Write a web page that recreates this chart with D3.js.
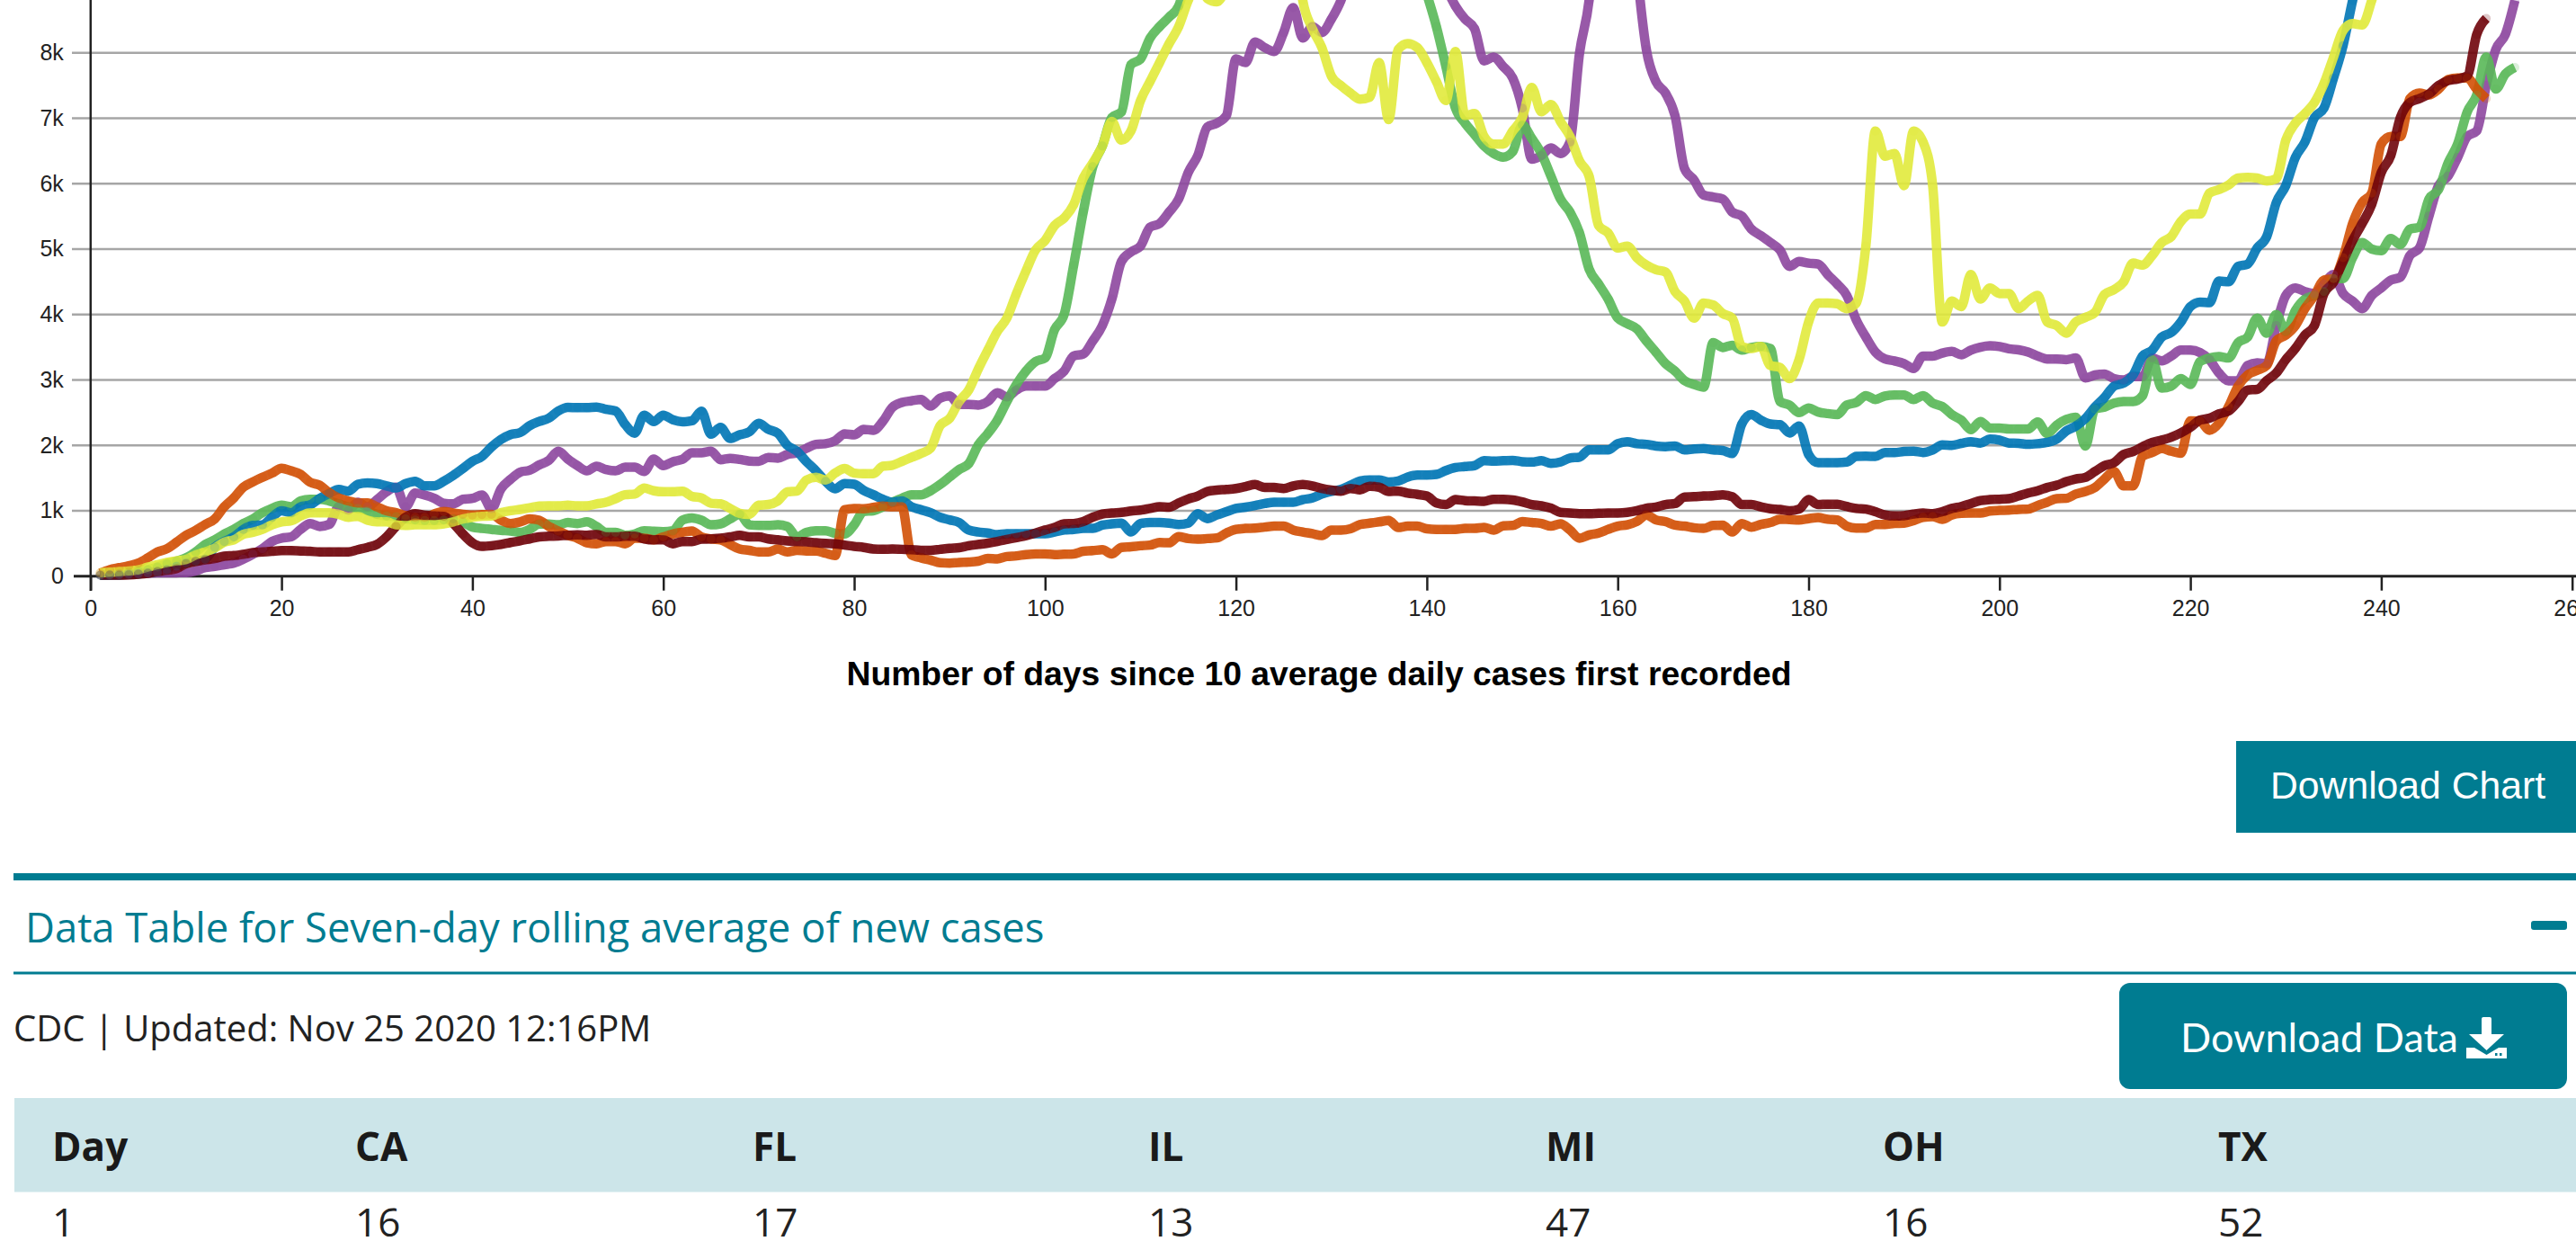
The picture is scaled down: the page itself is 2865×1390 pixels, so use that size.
<!DOCTYPE html>
<meta charset="utf-8">
<style>
  html, body { margin: 0; padding: 0; background: #fff; overflow: hidden; }
  svg { display: block; }
  .tick text, .xlabel { font-family: "Liberation Sans", sans-serif; }
  .tick text { font-size: 25px; fill: #222; }
  .xlabel { font-size: 37.3px; font-weight: bold; fill: #000; text-anchor: middle; }
  .grid line { stroke: #a6a6a6; stroke-width: 2.5px; }
  .series { fill: none; stroke-width: 10.5px; stroke-linejoin: round; stroke-opacity: .9; }
  .open { font-family: "Open Sans", sans-serif; }
</style>
<svg width="2865" height="1390"></svg>
<script src="https://d3js.org/d3.v7.min.js"></script>
<script>

////////// Data //////////////

var CA = [16,20,28,35,40,45,50,50,52,55,
  80,130,150,175,200,260,335,420,530,580,
  600,715,805,760,790,1060,1010,1130,1060,1170,
  1290,1360,1060,1270,1240,1190,1115,1105,1175,1190,
  1240,1030,1335,1480,1590,1620,1700,1770,1910,1790,
  1690,1610,1680,1630,1610,1665,1665,1600,1790,1690,
  1750,1785,1885,1885,1910,1780,1800,1785,1760,1755,
  1815,1805,1860,1885,1955,2015,2025,2070,2175,2160,
  2245,2230,2365,2580,2655,2680,2700,2600,2720,2755,
  2625,2625,2615,2670,2805,2740,2845,2905,2905,2905,
  3020,3135,3365,3395,3595,3830,4235,4810,4955,5045,
  5335,5390,5565,5765,6170,6430,6865,6925,7040,7905,
  7850,8165,8080,8020,8310,8690,8225,8400,8310,8515,
  8800,9250,9700,10000,10100,10000,10100,9900,9700,9500,
  9300,9000,8715,8515,8370,7875,7935,7790,7615,7155,
  6375,6430,6545,6460,6635,7995,8800,10500,11500,12000,
  11000,9300,8050,7560,7385,7040,6230,6055,5825,5795,
  5765,5565,5505,5305,5205,5100,4985,4735,4810,4785,
  4770,4610,4465,4290,3915,3655,3425,3320,3290,3250,
  3175,3365,3365,3410,3435,3385,3455,3500,3520,3510,
  3475,3460,3425,3365,3320,3320,3310,3335,3030,3075,
  3090,3020,3000,3050,3050,3335,3290,3365,3455,3455,
  3420,3310,3105,2985,2990,3220,3260,3250,3830,4290,
  4405,4350,4320,4465,4610,4320,4205,4090,4290,4405,
  4525,4570,4900,5015,5505,5970,6115,6400,6720,6805,
  7500,8050,8280,8800];

var FL = [17,25,40,60,80,100,140,190,230,280,
  370,485,555,645,715,805,875,970,1035,1085,
  1060,1150,1175,1175,1150,1105,1060,1035,1000,945,
  920,910,875,860,850,850,860,875,830,750,
  730,715,700,690,670,715,795,795,785,820,
  805,830,760,670,670,625,645,695,685,680,
  695,855,890,855,785,800,875,945,785,775,
  775,785,760,600,670,695,695,655,645,785,
  990,1000,1060,1130,1190,1245,1245,1305,1400,1515,
  1630,1720,2005,2180,2385,2670,2930,3135,3280,3335,
  3770,4000,4755,5565,6260,6575,7010,7095,7820,7905,
  8225,8400,8545,8715,9200,9500,9700,10000,10200,10400,
  10500,10700,10900,11000,11200,11400,11500,11700,11700,11800,
  11800,11700,11500,11200,10900,10500,10200,9800,9400,8900,
  8400,7790,7155,6925,6750,6575,6460,6405,6490,6895,
  6690,6460,6115,5765,5565,5245,4695,4465,4235,3945,
  3860,3780,3595,3425,3250,3135,2990,2930,2890,3570,
  3495,3530,3455,3495,3510,3480,2670,2615,2500,2570,
  2510,2485,2470,2615,2655,2760,2700,2755,2770,2770,
  2700,2760,2645,2595,2470,2385,2240,2365,2265,2265,
  2250,2250,2250,2355,2180,2310,2395,2430,1990,2555,
  2585,2645,2670,2670,2760,3310,2875,2905,3020,2930,
  3280,3335,3355,3335,3570,3655,3945,3715,4000,3740,
  4060,4235,4290,4350,4550,4550,4870,5100,5000,4975,
  5160,5070,5305,5335,5765,5910,6315,6605,7095,7355,
  7935,7445,7675,7775];

var IL = [13,15,18,25,35,50,70,100,150,200,
  230,260,440,530,600,715,775,785,900,1000,
  970,1060,1090,1190,1265,1325,1300,1405,1425,1415,
  1380,1350,1415,1450,1380,1380,1450,1540,1645,1755,
  1830,1975,2090,2165,2195,2300,2365,2415,2525,2580,
  2575,2575,2585,2550,2525,2320,2185,2460,2365,2460,
  2390,2360,2375,2520,2170,2275,2105,2160,2205,2335,
  2245,2185,2000,1910,1750,1610,1450,1335,1415,1405,
  1310,1245,1175,1130,1150,1060,1015,970,900,860,
  820,705,675,660,635,650,650,650,650,650,
  675,705,715,730,730,780,800,810,675,805,
  820,820,810,790,810,955,880,935,985,1035,
  1055,1080,1110,1130,1130,1130,1170,1195,1255,1295,
  1325,1390,1455,1470,1470,1440,1455,1515,1545,1545,
  1555,1615,1660,1675,1690,1765,1760,1765,1770,1750,
  1745,1765,1725,1745,1805,1820,1930,1930,1930,2025,
  2055,2025,2015,1990,1980,1990,1930,1945,1950,1930,
  1920,1875,2325,2470,2385,2325,2315,2190,2295,1860,
  1735,1735,1735,1745,1830,1835,1830,1890,1890,1905,
  1910,1890,1930,2005,2000,2030,2055,2035,2095,2080,
  2035,2030,2015,2025,2045,2095,2220,2295,2410,2585,
  2730,2905,2950,3075,3365,3455,3655,3725,3885,4120,
  4190,4180,4510,4500,4735,4770,5015,5190,5710,5970,
  6400,6635,7010,7155,7615,8110,8800,9400,10000,10600,
  11000,11300,11600,11900,12200,12400,12600,12800,13000,13200,
  13300,13400,13500,13600];

var MI = [47,100,130,160,200,280,370,420,520,625,
  700,790,875,1060,1195,1360,1440,1510,1575,1650,
  1610,1555,1435,1390,1275,1195,1150,1120,1120,1060,
  1000,970,925,900,900,950,990,965,945,935,
  940,945,855,805,830,875,855,760,690,625,
  580,510,495,530,530,495,580,580,555,600,
  645,670,690,600,570,555,485,415,395,370,
  370,415,370,395,385,385,350,315,1015,1035,
  1030,1050,1070,1060,1060,325,280,245,205,200,
  210,215,230,270,265,300,310,330,340,340,
  330,335,340,380,390,405,340,440,450,465,
  475,515,510,605,575,565,575,585,660,715,
  730,735,750,765,765,705,675,650,620,705,
  705,725,790,810,830,850,745,765,765,725,
  715,715,715,730,730,745,705,770,775,835,
  820,805,765,800,705,580,630,660,715,765,
  785,835,935,860,835,780,765,740,730,775,
  780,675,805,750,790,820,870,865,860,880,
  895,870,860,765,735,735,790,790,805,810,
  850,900,910,870,935,960,965,965,995,1005,
  1010,1020,1025,1080,1130,1185,1190,1255,1295,1355,
  1485,1600,1380,1380,1835,1890,1950,1910,1880,2375,
  2370,2230,2340,2590,2905,3075,3145,3220,3595,3685,
  3830,4090,4290,4525,4550,4870,5390,5710,5855,6605,
  6720,6720,7300,7385,7355,7445,7590,7615,7615,7445,
  7300];

var OH = [16,15,15,20,30,45,70,90,115,190,
  225,250,270,305,315,335,360,370,380,390,
  390,385,380,370,370,370,370,405,440,485,
  600,760,900,955,930,920,915,805,645,510,
  455,465,485,515,540,570,600,610,615,625,
  630,625,640,600,600,610,610,570,555,555,
  495,530,530,565,570,580,600,625,600,600,
  570,555,540,530,525,510,500,495,475,455,
  440,415,410,415,410,405,395,395,410,425,
  435,465,485,505,530,560,590,620,660,705,
  745,800,805,835,900,950,965,975,995,1010,
  1035,1060,1055,1120,1180,1225,1295,1315,1325,1340,
  1370,1400,1355,1355,1340,1380,1400,1380,1340,1315,
  1300,1340,1320,1375,1360,1295,1300,1270,1250,1225,
  1120,1095,1170,1155,1150,1145,1175,1175,1165,1135,
  1095,1075,1040,975,965,955,955,960,965,965,
  975,1000,1040,1055,1095,1110,1210,1215,1225,1230,
  1245,1215,1095,1095,1060,1030,1020,1000,1025,1170,
  1095,1100,1100,1065,1035,1025,985,935,920,925,
  950,965,955,985,1035,1065,1110,1155,1170,1175,
  1185,1225,1270,1305,1355,1390,1445,1485,1510,1600,
  1690,1735,1860,1905,1980,2045,2080,2125,2190,2275,
  2385,2415,2480,2525,2670,2845,2855,2990,3105,3310,
  3480,3685,3830,4320,4495,4810,5130,5390,5680,6170,
  6430,7010,7240,7300,7370,7500,7575,7600,7645,8280,
  8525];

var TX = [52,60,70,80,96,140,175,210,235,255,
  325,370,430,520,555,640,670,715,785,830,
  845,920,970,970,970,945,900,915,855,830,
  830,785,775,785,785,785,800,830,875,900,
  915,920,970,1000,1020,1045,1070,1075,1075,1085,
  1075,1075,1105,1130,1185,1245,1255,1345,1305,1290,
  1290,1300,1220,1195,1115,1105,1035,960,945,1085,
  1095,1150,1290,1300,1470,1510,1470,1575,1645,1575,
  1565,1565,1680,1695,1755,1815,1875,1955,2300,2410,
  2670,2845,3165,3455,3740,3945,4320,4665,4985,5130,
  5360,5475,5680,6085,6315,6575,6950,6665,6805,7270,
  7560,7850,8140,8400,8800,9100,8830,8780,9000,9400,
  9700,9900,10100,10300,10400,10000,8800,8370,8080,7645,
  7500,7385,7290,7320,7850,6980,8050,8140,8080,7850,
  7560,7270,8020,7040,7070,6720,6605,6605,6805,7010,
  7470,7100,7210,6950,6720,6345,6115,5360,5245,5015,
  5045,4870,4755,4685,4650,4350,4205,3945,4175,4145,
  4015,3945,3510,3480,3510,3220,3190,3020,3310,3885,
  4175,4175,4165,4090,4175,5045,6805,6420,6460,5970,
  6805,6635,5970,3885,4205,4120,4610,4235,4405,4320,
  4320,4090,4205,4290,3885,3830,3715,3885,3955,4030,
  4305,4380,4495,4785,4755,4900,5100,5190,5420,5535,
  5535,5855,5910,5980,6085,6095,6085,6040,6075,6665,
  6925,7070,7240,7530,7935,8340,8445,8425,8800,9300,
  9700,10000,10300,10500,10800,11000,11200,11400,11600,11800,
  11900,12000,12100,12200];

var seriesNames = ["CA", "FL", "IL", "MI", "OH", "TX"];
var seriesValues = [CA, FL, IL, MI, OH, TX];
var seriesColors = ["#8d479e", "#59b858", "#0076b5", "#d25006", "#6f030a", "#e1ea3c"];

var xTicks = [0, 20, 40, 60, 80, 100, 120, 140, 160, 180, 200, 220, 240, 260];
var yTicks = [0, 1000, 2000, 3000, 4000, 5000, 6000, 7000, 8000];

var tableHead = ["Day", "CA", "FL", "IL", "MI", "OH", "TX"];
var tableRow = ["1", "16", "17", "13", "47", "16", "52"];

////////// Scales + axes //////////////

var svg = d3.select("svg");

var x = d3.scaleLinear().domain([0, 260]).range([100.8, 2860.7]);
var y = d3.scaleLinear().domain([0, 8000]).range([640.7, 58.7]);

var yFormat = function(d) { return d === 0 ? "0" : (d / 1000) + "k"; };

// grid lines run off the right edge
svg.append("g").attr("class", "grid")
  .selectAll("line")
  .data(yTicks.filter(function(d) { return d > 0; }))
  .enter().append("line")
    .attr("x1", 80).attr("x2", 2865)
    .attr("y1", function(d) { return y(d); })
    .attr("y2", function(d) { return y(d); });

var yAxis = svg.append("g")
    .attr("transform", "translate(100.8,0)")
    .call(d3.axisLeft(y).tickValues(yTicks).tickFormat(yFormat).tickSize(0).tickPadding(30));
yAxis.select(".domain").remove();

var xAxis = svg.append("g")
    .attr("transform", "translate(0,640.7)")
    .call(d3.axisBottom(x).tickValues(xTicks).tickSize(16).tickPadding(11));
xAxis.select(".domain").remove();
xAxis.selectAll(".tick line").attr("stroke", "#222").attr("stroke-width", 2.5);

svg.append("line").attr("x1", 100.8).attr("x2", 100.8).attr("y1", 0).attr("y2", 657)
  .attr("stroke", "#222").attr("stroke-width", 2.5);
svg.append("line").attr("x1", 82).attr("x2", 2865).attr("y1", 640.7).attr("y2", 640.7)
  .attr("stroke", "#222").attr("stroke-width", 3);

////////// Lines + the pale day dots on top //////////////

var line = d3.line()
    .curve(d3.curveMonotoneX)
    .x(function(d, i) { return x(i + 1); })
    .y(function(d) { return y(d); });

svg.append("g").selectAll("path")
  .data(seriesValues)
  .enter().append("path")
    .attr("class", "series")
    .attr("stroke", function(d, i) { return seriesColors[i]; })
    .attr("d", line);

seriesValues.forEach(function(vals, s) {
  svg.append("g").attr("class", "dots-" + seriesNames[s])
    .selectAll("circle")
    .data(vals)
    .enter().append("circle")
      .attr("cx", function(d, i) { return x(i + 1); })
      .attr("cy", function(d) { return y(d); })
      .attr("r", 5)
      .attr("fill", seriesColors[s])
      .attr("fill-opacity", 0.22);
});

svg.append("text").attr("class", "xlabel")
  .attr("x", 1467).attr("y", 762)
  .text("Number of days since 10 average daily cases first recorded");

////////// Buttons + data table header //////////////

var teal = "#007c91";

svg.append("rect").attr("x", 2487).attr("y", 824).attr("width", 378).attr("height", 102).attr("fill", teal);
svg.append("text").attr("x", 2525).attr("y", 888)
  .attr("font-family", "Liberation Sans, sans-serif").attr("font-size", 42.7).attr("fill", "#fff")
  .text("Download Chart");

svg.append("rect").attr("x", 15).attr("y", 971).attr("width", 2850).attr("height", 8).attr("fill", teal);
svg.append("text").attr("class", "open").attr("x", 28).attr("y", 1048)
  .attr("font-size", 45.4).attr("fill", teal)
  .text("Data Table for Seven-day rolling average of new cases");
svg.append("rect").attr("x", 2815).attr("y", 1024).attr("width", 40).attr("height", 10).attr("rx", 3).attr("fill", teal);
svg.append("rect").attr("x", 15).attr("y", 1080.5).attr("width", 2850).attr("height", 3).attr("fill", teal);

svg.append("text").attr("class", "open").attr("x", 15).attr("y", 1158)
  .attr("font-size", 40).attr("fill", "#222")
  .text("CDC | Updated: Nov 25 2020 12:16PM");

svg.append("rect").attr("x", 2357).attr("y", 1093).attr("width", 498).attr("height", 118).attr("rx", 12).attr("fill", teal);
svg.append("text").attr("x", 2425).attr("y", 1170)
  .attr("font-family", "Lato, sans-serif").attr("font-size", 45).attr("fill", "#fff")
  .text("Download Data");

// download glyph
var icon = svg.append("g").attr("fill", "#fff");
icon.append("rect").attr("x", 2760).attr("y", 1131).attr("width", 11).attr("height", 22).attr("rx", 2);
icon.append("path").attr("d", "M2746,1150 L2785,1150 L2765.5,1168 Z");
icon.append("path").attr("d", "M2743,1165 L2752,1165 L2765.5,1173 L2779,1165 L2788,1165 L2788,1177 L2743,1177 Z");
icon.append("rect").attr("x", 2775).attr("y", 1171).attr("width", 2.5).attr("height", 3).attr("fill", teal);
icon.append("rect").attr("x", 2780).attr("y", 1171).attr("width", 2.5).attr("height", 3).attr("fill", teal);

svg.append("rect").attr("x", 16).attr("y", 1221).attr("width", 2849).attr("height", 104.5).attr("fill", "#cce5e9");

var colX = d3.scaleOrdinal().domain(tableHead).range([58, 395, 837, 1277, 1719, 2094, 2467]);

svg.append("g").selectAll("text")
  .data(tableHead)
  .enter().append("text")
    .attr("class", "open")
    .attr("x", function(d) { return colX(d); })
    .attr("y", 1291)
    .attr("font-size", 44).attr("font-weight", "bold").attr("fill", "#1a1a1a")
    .text(function(d) { return d; });

svg.append("g").selectAll("text")
  .data(tableRow)
  .enter().append("text")
    .attr("class", "open")
    .attr("x", function(d, i) { return colX(tableHead[i]); })
    .attr("y", 1375)
    .attr("font-size", 44).attr("fill", "#222")
    .text(function(d) { return d; });

</script>
